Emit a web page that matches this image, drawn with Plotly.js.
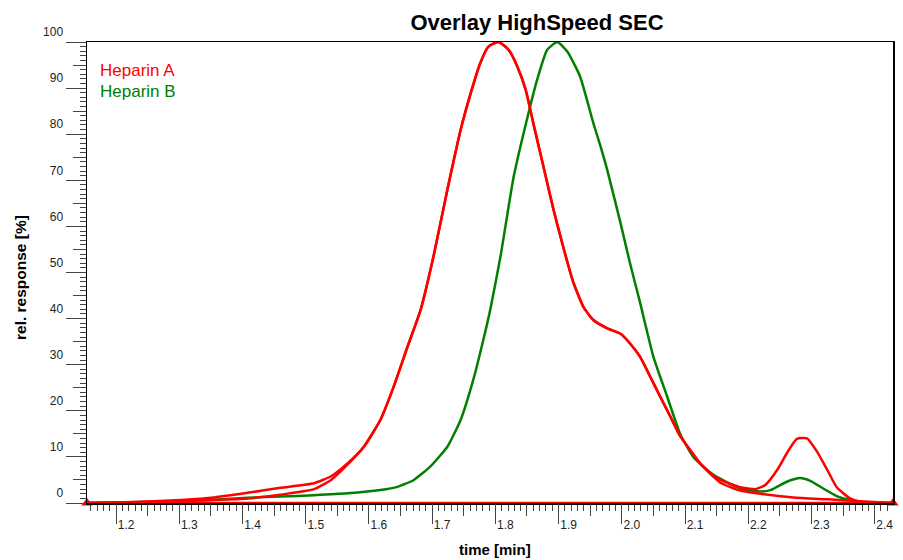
<!DOCTYPE html>
<html>
<head>
<meta charset="utf-8">
<script src="https://cdn.plot.ly/plotly-3.0.1.min.js"></script>
<style>
  html, body { margin: 0; padding: 0; background: #fff; }
  #chart { width: 903px; height: 560px; }
</style>
</head>
<body>
<div id="chart"></div>
<script>
// Elution profiles, time in min, response in % of peak maximum
const timeA = [1.154, 1.200, 1.250, 1.303, 1.355, 1.408, 1.460, 1.513, 1.540, 1.566, 1.592, 1.618, 1.639, 1.661, 1.682, 1.702, 1.724, 1.745, 1.761, 1.776, 1.789, 1.805, 1.821, 1.835, 1.848, 1.860, 1.876, 1.892, 1.908, 1.923, 1.939, 1.955, 1.977, 1.998, 2.013, 2.029, 2.045, 2.061, 2.077, 2.092, 2.108, 2.124, 2.145, 2.156, 2.187, 2.211, 2.227, 2.246, 2.261, 2.277, 2.293, 2.309, 2.325, 2.340, 2.361, 2.377, 2.429];
const heparinA = [0, 0.1, 0.3, 0.65, 1.2, 2.2, 3.3, 4.3, 5.8, 8.6, 12.2, 18.0, 25.2, 33.9, 42.0, 53.4, 67.9, 80.9, 88.9, 95.4, 99.0, 100, 98.3, 94.6, 89.6, 82.4, 73.0, 63.6, 55.2, 48.0, 42.6, 39.7, 37.9, 36.7, 34.6, 31.7, 27.4, 23.0, 18.7, 14.6, 11.5, 8.6, 5.9, 5.0, 3.4, 3.0, 3.9, 7.2, 10.8, 13.9, 14.0, 11.1, 7.2, 3.4, 1.0, 0.3, 0];

// Second Heparin A profile (tail without the late peak)
const timeA2 = [1.154, 1.250, 1.303, 1.355, 1.408, 1.460, 1.513, 1.540, 1.566, 1.592, 1.618, 1.639, 1.661, 1.682, 1.702, 1.724, 1.745, 1.761, 1.776, 1.789, 1.805, 1.821, 1.835, 1.848, 1.860, 1.876, 1.892, 1.908, 1.923, 1.939, 1.955, 1.977, 1.998, 2.013, 2.029, 2.045, 2.061, 2.077, 2.092, 2.108, 2.124, 2.145, 2.156, 2.187, 2.219, 2.271, 2.325, 2.377, 2.429];
const heparinA2 = [0, 0.2, 0.4, 0.65, 1.0, 1.8, 3.0, 5.0, 8.3, 12.2, 18.0, 25.2, 33.9, 42.0, 53.4, 67.9, 80.9, 88.9, 95.4, 99.0, 100, 98.3, 94.6, 89.6, 82.4, 73.0, 63.6, 55.2, 48.0, 42.6, 39.7, 37.9, 36.7, 34.6, 31.7, 27.4, 23.0, 18.7, 14.6, 11.5, 8.6, 5.7, 4.4, 2.7, 2.0, 1.2, 0.8, 0.4, 0];

const timeB = [1.154, 1.250, 1.303, 1.355, 1.408, 1.460, 1.513, 1.566, 1.618, 1.645, 1.671, 1.697, 1.724, 1.745, 1.765, 1.781, 1.792, 1.808, 1.829, 1.851, 1.866, 1.882, 1.898, 1.914, 1.934, 1.955, 1.966, 1.977, 1.998, 2.013, 2.029, 2.050, 2.072, 2.092, 2.113, 2.145, 2.187, 2.219, 2.235, 2.261, 2.282, 2.298, 2.318, 2.340, 2.361, 2.377, 2.429];
const heparinB = [0, 0.2, 0.4, 0.7, 1.15, 1.4, 1.7, 2.1, 2.8, 3.5, 5.0, 7.9, 12.2, 18.0, 26.7, 35.4, 42.0, 53.4, 70.8, 83.8, 91.8, 98.3, 100, 97.9, 92.5, 82.4, 77.5, 72.2, 60.7, 52.0, 43.4, 31.7, 23.0, 15.1, 10.0, 6.1, 3.2, 2.5, 2.8, 4.6, 5.4, 4.8, 3.2, 1.5, 0.65, 0.2, 0];

// Integration limits
const limitTimes = [1.154, 2.429];
const limitLevel = [0, 0];

const xRange = [1.154, 2.429];
const yRange = [0, 100];
const yTickVals = [0, 10, 20, 30, 40, 50, 60, 70, 80, 90, 100];

const RED = '#ff0000';
const GREEN = '#008000';
const TICK = '#444444';
const FONT = 'Liberation Sans, Arial, Helvetica, sans-serif';

const curveLine = (color) => ({ color: color, width: 2.5, shape: 'spline', smoothing: 0.5 });

const traces = [
  { x: timeB, y: heparinB, type: 'scatter', mode: 'lines', name: 'Heparin B',
    line: curveLine(GREEN) },
  { x: timeA2, y: heparinA2, type: 'scatter', mode: 'lines', name: 'Heparin A (2)',
    line: curveLine(RED) },
  { x: timeA, y: heparinA, type: 'scatter', mode: 'lines', name: 'Heparin A',
    line: curveLine(RED) },
  { x: limitTimes, y: limitLevel, type: 'scatter', mode: 'lines+markers',
    xaxis: 'x2', yaxis: 'y2', cliponaxis: false,
    line: { color: RED, width: 2.5 },
    marker: { symbol: 'triangle-up', size: 10, color: RED } }
];

const layout = {
  width: 903, height: 560,
  margin: { l: 87, r: 10, t: 42, b: 57 },
  paper_bgcolor: '#ffffff', plot_bgcolor: '#ffffff',
  showlegend: false,
  font: { family: FONT, color: '#222' },
  title: {
    text: '<b>Overlay HighSpeed SEC</b>',
    font: { family: FONT, size: 22, color: '#000' },
    xref: 'container', x: 537 / 903, xanchor: 'center',
    yref: 'container', y: 1 - 22 / 560, yanchor: 'middle'
  },
  xaxis: {
    range: xRange, fixedrange: true,
    showgrid: false, zeroline: false,
    showline: true, linecolor: '#000', linewidth: 1.5, mirror: true,
    tick0: 1.2, dtick: 0.1, tickformat: '.1f',
    ticks: 'outside', ticklen: 19, tickwidth: 1, tickcolor: TICK,
    ticklabelshift: 10, ticklabelstandoff: -9,
    tickfont: { family: FONT, size: 12, color: '#222' },
    minor: { tick0: 1.2, dtick: 0.01, ticks: 'outside', ticklen: 6, tickwidth: 1, tickcolor: TICK, showgrid: false }
  },
  xaxis2: {
    range: xRange, fixedrange: true, overlaying: 'x', anchor: 'y2', side: 'bottom',
    showgrid: false, zeroline: false, showline: false, showticklabels: false,
    tick0: 1.2, dtick: 0.05, ticks: 'outside', ticklen: 12, tickwidth: 1, tickcolor: TICK
  },
  yaxis: {
    range: yRange, fixedrange: true,
    showgrid: false, zeroline: false,
    showline: true, linecolor: '#000', linewidth: 1.5, mirror: true,
    tickmode: 'array', tickvals: yTickVals,
    ticks: 'outside', ticklen: 20, tickwidth: 1, tickcolor: TICK,
    ticklabelshift: -10,
    tickfont: { family: FONT, size: 12, color: '#222' },
    minor: { tick0: 0, dtick: 1, ticks: 'outside', ticklen: 6, tickwidth: 1, tickcolor: TICK, showgrid: false }
  },
  yaxis2: {
    range: yRange, fixedrange: true, overlaying: 'y', anchor: 'x2', side: 'left',
    showgrid: false, zeroline: false, showline: false, showticklabels: false,
    tick0: 0, dtick: 5, ticks: 'outside', ticklen: 13, tickwidth: 1, tickcolor: TICK
  },
  annotations: [
    { text: '<b>time [min]</b>', xref: 'paper', yref: 'paper',
      x: (495 - 87) / 806, y: -(549 - 503) / 461, xanchor: 'center', yanchor: 'middle',
      showarrow: false, font: { family: FONT, size: 15, color: '#000' } },
    { text: '<b>rel. response [%]</b>', xref: 'paper', yref: 'paper', textangle: -90,
      x: -(87 - 20) / 806, y: (503 - 278) / 461, xanchor: 'center', yanchor: 'middle',
      showarrow: false, font: { family: FONT, size: 15.5, color: '#000' } },
    { text: 'Heparin A', xref: 'paper', yref: 'paper',
      x: (98 - 87) / 806, y: (503 - 70) / 461, xanchor: 'left', yanchor: 'middle',
      showarrow: false, font: { family: FONT, size: 17, color: RED } },
    { text: 'Heparin B', xref: 'paper', yref: 'paper',
      x: (98 - 87) / 806, y: (503 - 91) / 461, xanchor: 'left', yanchor: 'middle',
      showarrow: false, font: { family: FONT, size: 17, color: GREEN } }
  ]
};

Plotly.newPlot('chart', traces, layout, { displayModeBar: false, staticPlot: true });
</script>
</body>
</html>
